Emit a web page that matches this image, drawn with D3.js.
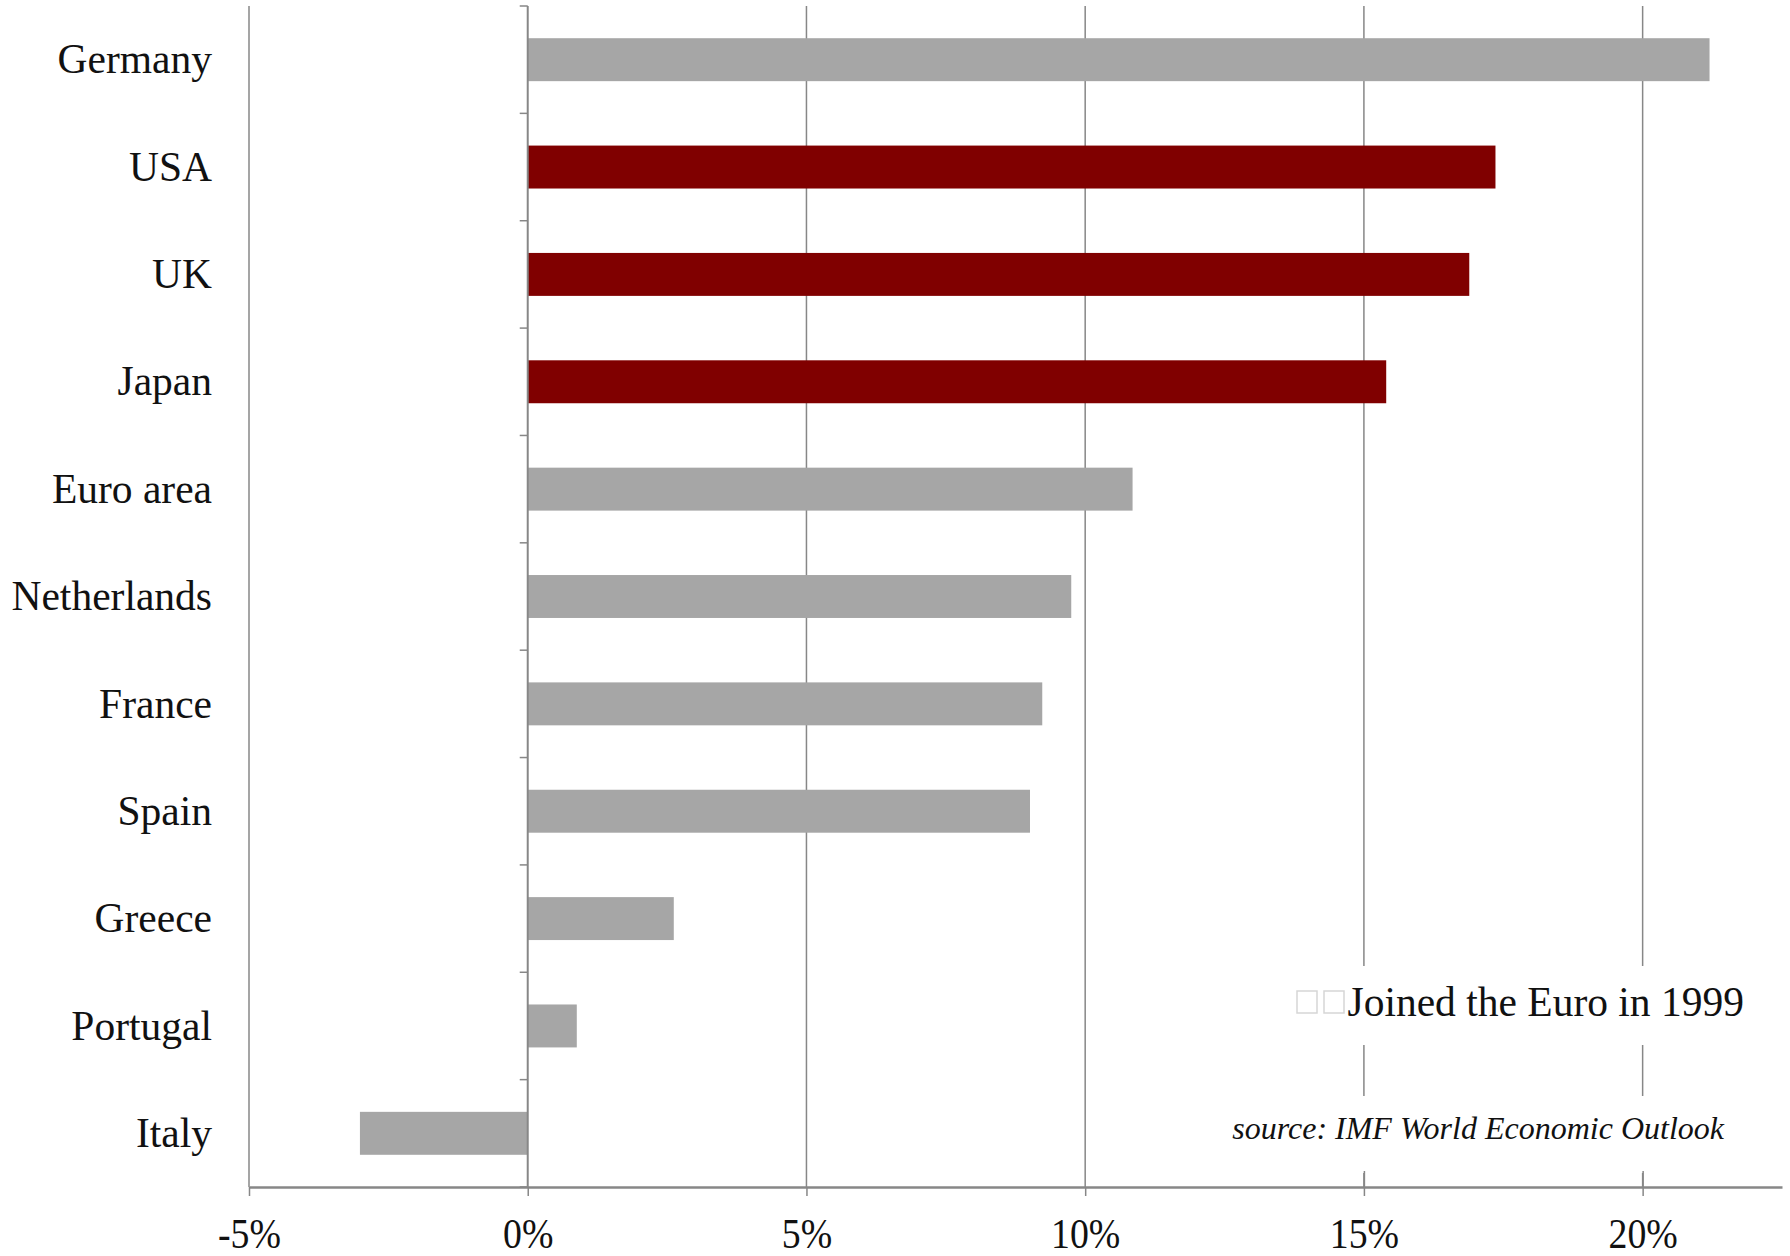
<!DOCTYPE html>
<html>
<head>
<meta charset="utf-8">
<script src="https://cdn.jsdelivr.net/npm/d3@7"></script>
<style>
  html, body { margin: 0; padding: 0; background: #fff; }
  svg { display: block; }
</style>
</head>
<body>
<svg id="chart" width="1790" height="1256"></svg>
<script>
const categories = ["Germany", "USA", "UK", "Japan", "Euro area", "Netherlands", "France", "Spain", "Greece", "Portugal", "Italy"];
const values = [21.2, 17.36, 16.89, 15.40, 10.85, 9.75, 9.23, 9.01, 2.62, 0.88, -3.01];
const joinedEuro = [true, false, false, false, true, true, true, true, true, true, true];
const xTicks = [-5, 0, 5, 10, 15, 20];
const xTickLabels = ["-5%", "0%", "5%", "10%", "15%", "20%"];
const legendText = "Joined the Euro in 1999";
const sourceText = "source: IMF World Economic Outlook";

(function () {
const FONT = "'Liberation Serif', 'Times New Roman', serif";
const GRID = "#878787";
const svg = d3.select("#chart");

const plotTop = 6, plotBottom = 1187;
const x = d3.scaleLinear().domain([-5, 22.5]).range([249, 1782]);
const y = d3.scaleBand().domain(categories).range([plotTop, plotBottom]).paddingInner(0.6).paddingOuter(0.3);

// vertical gridlines (excluding 0, which is the category axis)
svg.append("g").selectAll("line")
  .data(xTicks.filter(t => t !== 0))
  .join("line")
  .attr("x1", d => x(d)).attr("x2", d => x(d))
  .attr("y1", plotTop).attr("y2", plotBottom)
  .attr("stroke", GRID).attr("stroke-width", 1.5);

// bars
svg.append("g").selectAll("rect")
  .data(categories)
  .join("rect")
  .attr("x", (d, i) => x(Math.min(0, values[i])))
  .attr("y", d => y(d))
  .attr("width", (d, i) => Math.abs(x(values[i]) - x(0)))
  .attr("height", y.bandwidth())
  .attr("fill", (d, i) => joinedEuro[i] ? "#a6a6a6" : "#800000");

// category axis at 0
const step = y.step();
const boundaries = d3.range(categories.length + 1).map(i => plotTop + i * step);
svg.append("line")
  .attr("x1", x(0)).attr("x2", x(0)).attr("y1", plotTop).attr("y2", plotBottom)
  .attr("stroke", GRID).attr("stroke-width", 2);
svg.append("g").selectAll("line")
  .data(boundaries)
  .join("line")
  .attr("x1", x(0) - 8).attr("x2", x(0))
  .attr("y1", d => d).attr("y2", d => d)
  .attr("stroke", GRID).attr("stroke-width", 1.5);

// category labels
svg.append("g").selectAll("text")
  .data(categories)
  .join("text")
  .attr("x", 212)
  .attr("y", d => y(d) + y.bandwidth() / 2)
  .attr("dy", "0.33em")
  .attr("text-anchor", "end")
  .attr("font-family", FONT)
  .attr("font-size", 41.5)
  .attr("fill", "#111")
  .text(d => d);

// white boxes for legend & source (covering gridlines)
svg.append("rect").attr("x", 1285).attr("y", 966).attr("width", 470).attr("height", 79).attr("fill", "#fff");
svg.append("rect").attr("x", 1225).attr("y", 1096).attr("width", 510).attr("height", 77).attr("fill", "#fff");

// x axis
const xAxis = d3.axisBottom(x)
  .tickValues(xTicks)
  .tickFormat((d, i) => xTickLabels[i])
  .tickSizeInner(9).tickSizeOuter(0).tickPadding(22);
const gx = svg.append("g").attr("transform", `translate(0,${plotBottom})`).call(xAxis);
gx.select(".domain").attr("stroke", GRID).attr("stroke-width", 2.5);
gx.selectAll(".tick line").attr("stroke", GRID).attr("stroke-width", 1.5);
gx.selectAll(".tick line").filter(d => d >= 15).attr("y1", -16);
gx.selectAll(".tick text")
  .attr("font-family", FONT).attr("font-size", 42).attr("fill", "#111")
  .attr("transform", "scale(0.9,1)");

// legend
const lg = svg.append("g");
[1297, 1324].forEach(bx => {
  lg.append("rect").attr("x", bx).attr("y", 991).attr("width", 20).attr("height", 22)
    .attr("fill", "none").attr("stroke", "#d6d6d6").attr("stroke-width", 1.5);
});
lg.append("text").attr("x", 1744).attr("y", 1016)
  .attr("text-anchor", "end")
  .attr("font-family", FONT).attr("font-size", 41.5).attr("fill", "#111")
  .text(legendText);

// source
svg.append("text").attr("x", 1724).attr("y", 1139)
  .attr("text-anchor", "end")
  .attr("font-family", FONT).attr("font-style", "italic")
  .attr("font-size", 32).attr("fill", "#111")
  .text(sourceText);
})();
</script>
</body>
</html>
